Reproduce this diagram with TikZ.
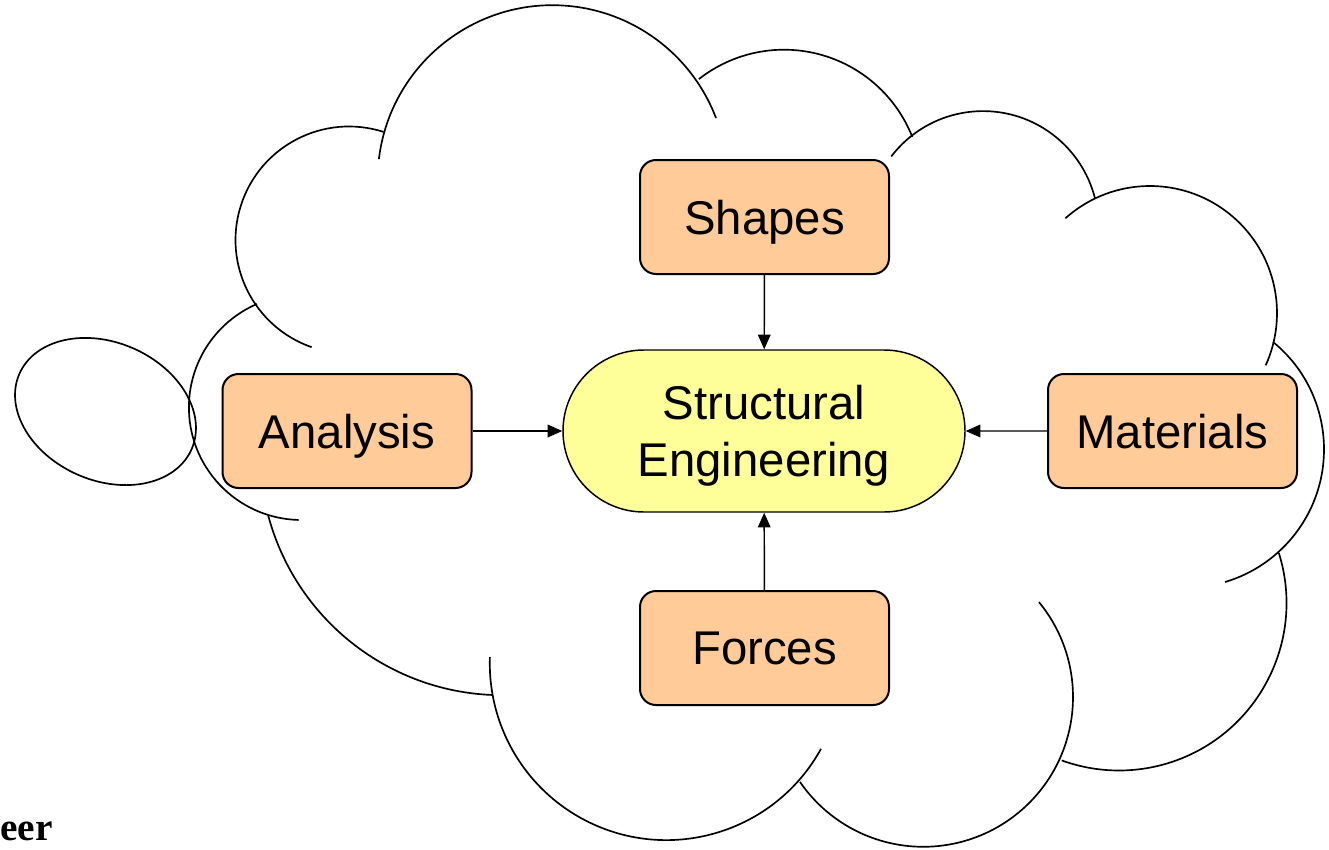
\documentclass[tikz,border=0pt]{standalone}
\usepackage{fontspec}
\setmainfont{Liberation Sans}
\newfontfamily\serifbold{Liberation Serif}
\usetikzlibrary{arrows.meta,shapes.misc}
\definecolor{peach}{RGB}{255,204,153}
\definecolor{paleyellow}{RGB}{255,255,153}
\begin{document}
\begin{tikzpicture}[x=0.75pt,y=-0.75pt,
  cloudline/.style={line width=1.25pt},
  lobe/.style={cloudline},
  box/.style={draw, line width=1.5pt, fill=peach, rounded corners=12pt,
    minimum width=186.75pt, minimum height=85.5pt, inner sep=0pt,
    text depth=0pt, font=\fontsize{35.5}{42.6}\selectfont},
  core/.style={draw, line width=1.1pt, fill=paleyellow, rounded rectangle,
    minimum width=301.5pt, minimum height=121.5pt, inner sep=0pt,
    text depth=0pt, font=\fontsize{35.5}{42.6}\selectfont, align=center},
  link/.style={line width=1.1pt, -{Triangle[length=11pt,width=9.5pt]}}
]
\useasboundingbox (0,0) rectangle (1329,850);
\fill[white] (0,0) rectangle (1329,850);

% cloud lobes (centre, radius, start and end angle; y grows downward)
\draw[lobe] (349,240) ++(-72.3:113.5) arc[start angle=-72.3, end angle=-250.8, radius=113.5];
\draw[lobe] (552.5,180.1) ++(-173.1:174.9) arc[start angle=-173.1, end angle=-20.8, radius=174.9];
\draw[lobe] (784,187.7) ++(-128.1:138) arc[start angle=-128.1, end angle=-21.6, radius=138];
\draw[lobe] (983,226.6) ++(-142.6:115.5) arc[start angle=-142.6, end angle=-14.3, radius=115.5];
\draw[lobe] (1150,313) ++(-131.8:127) arc[start angle=-131.8, end angle=24.3, radius=127];
\draw[lobe] (1185.5,449.3) ++(-50.8:138.5) arc[start angle=-50.8, end angle=73.4, radius=138.5];
\draw[lobe] (1119,603) ++(-17.4:167.5) arc[start angle=-17.4, end angle=110, radius=167.5];
\draw[lobe] (923.3,697.1) ++(-39.4:149.7) arc[start angle=-39.4, end angle=145.5, radius=149.7];
\draw[lobe] (666.4,663.5) ++(28.9:176.6) arc[start angle=28.9, end angle=182.1, radius=176.6];
\draw[lobe] (502.2,453) ++(92.4:242.2) arc[start angle=92.4, end angle=165.2, radius=242.2];
\draw[lobe] (301.5,407.4) ++(91.5:112.6) arc[start angle=91.5, end angle=246.7, radius=112.6];

% callout bubble
\draw[cloudline, shift={(105.5,411.5)}, rotate=-23.6] (0,0) ellipse [x radius=70.5pt, y radius=51.75pt];

% nodes
\node[core] (se) at (764,431) {Structural\\Engineering};
\node[box] (shapes) at (764.5,217) {Shapes};
\node[box] (analysis) at (347,431) {Analysis};
\node[box] (materials) at (1172.5,431) {Materials};
\node[box] (forces) at (764.5,648) {Forces};

% connectors
\draw[link] (shapes) -- (se);
\draw[link] (analysis) -- (se);
\draw[link] (materials) -- (se);
\draw[link] (forces) -- (se);

\node[anchor=base east, inner sep=0pt, font=\serifbold\bfseries\fontsize{29.5}{30}\selectfont] (eer) at (53,840) {eer};
\end{tikzpicture}
\end{document}
